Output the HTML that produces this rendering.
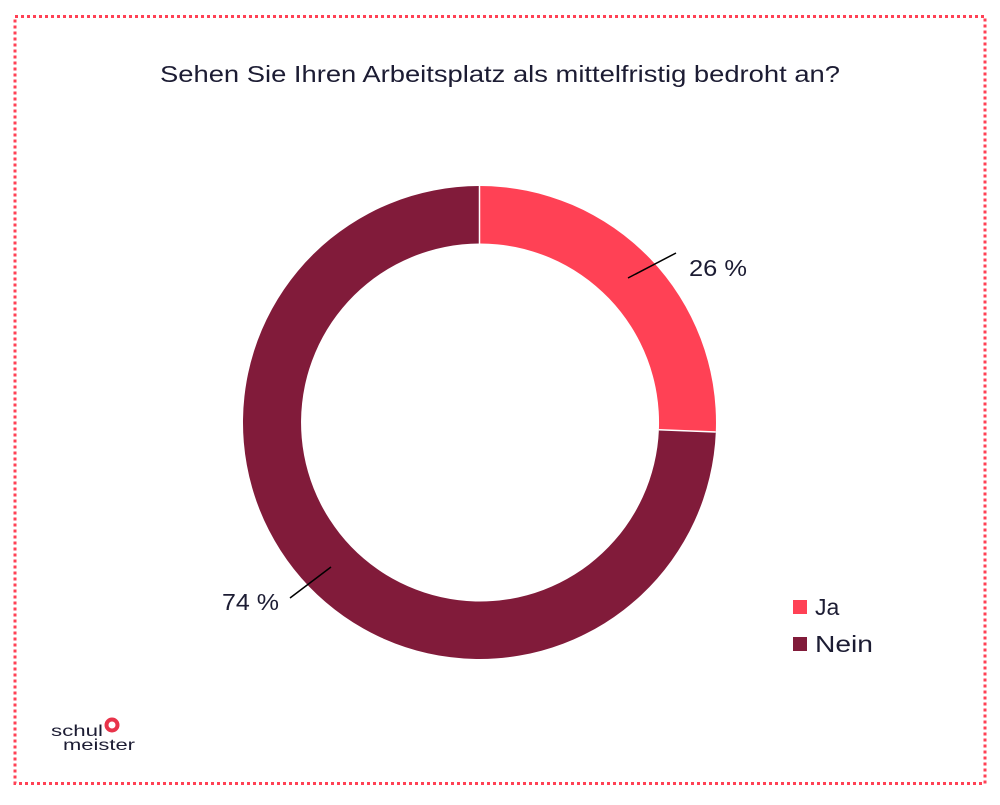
<!DOCTYPE html>
<html><head><meta charset="utf-8"><style>
html,body{margin:0;padding:0;background:#fff;}
body{width:1000px;height:800px;position:relative;overflow:hidden;font-family:"Liberation Sans",sans-serif;}
</style></head><body>
<svg width="1000" height="800" viewBox="0 0 1000 800" xmlns="http://www.w3.org/2000/svg">
<rect x="15" y="16.5" width="970" height="767" fill="none" stroke="#ff4155" stroke-width="3" stroke-dasharray="3,3"/>
<text x="160" y="82" textLength="680" lengthAdjust="spacingAndGlyphs" font-family="Liberation Sans, sans-serif" font-size="23" fill="#1c1c33">Sehen Sie Ihren Arbeitsplatz als mittelfristig bedroht an?</text>
<path d="M479.5,186 A236.5,236.5 0 0 1 715.8,432 L658.9,429.7 A179,179 0 0 0 479.5,243.5 Z" fill="#ff4155"/>
<path d="M715.8,432 A236.5,236.5 0 1 1 479.5,186 L479.5,243.5 A179,179 0 1 0 658.9,429.7 Z" fill="#811b3a"/>
<line x1="479.5" y1="186" x2="479.5" y2="243.5" stroke="#fff" stroke-width="1.5"/>
<line x1="715.8" y1="432" x2="658.9" y2="429.7" stroke="#fff" stroke-width="1.5"/>
<line x1="628" y1="278" x2="676" y2="253" stroke="#000" stroke-width="1.5"/>
<line x1="290" y1="598" x2="331" y2="567" stroke="#000" stroke-width="1.5"/>
<text x="689" y="276" textLength="58" lengthAdjust="spacingAndGlyphs" font-family="Liberation Sans, sans-serif" font-size="23" fill="#1c1c33">26 %</text>
<text x="222" y="610" textLength="57" lengthAdjust="spacingAndGlyphs" font-family="Liberation Sans, sans-serif" font-size="23" fill="#1c1c33">74 %</text>
<rect x="793" y="600" width="14" height="14" fill="#ff4155"/>
<text x="815" y="615" font-family="Liberation Sans, sans-serif" font-size="23" fill="#1c1c33">Ja</text>
<rect x="793" y="637" width="14" height="14" fill="#811b3a"/>
<text x="815" y="652" textLength="58" lengthAdjust="spacingAndGlyphs" font-family="Liberation Sans, sans-serif" font-size="23" fill="#1c1c33">Nein</text>
<text x="51" y="736" textLength="52" lengthAdjust="spacingAndGlyphs" font-family="Liberation Sans, sans-serif" font-size="16" fill="#1c1c33">schul</text>
<text x="63" y="750" textLength="72" lengthAdjust="spacingAndGlyphs" font-family="Liberation Sans, sans-serif" font-size="16" fill="#1c1c33">meister</text>
<circle cx="112" cy="725" r="5.5" fill="none" stroke="#e8334a" stroke-width="4"/>
</svg>
</body></html>
